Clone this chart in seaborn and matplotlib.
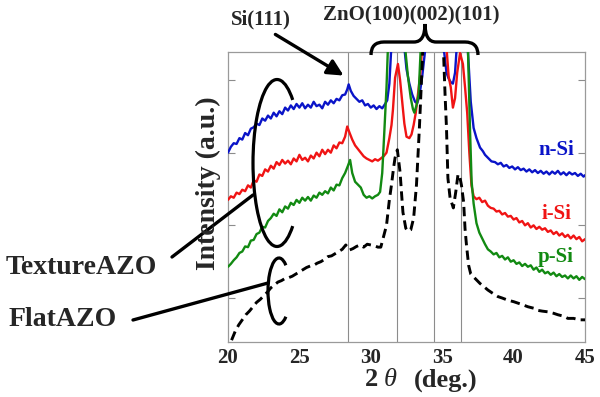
import matplotlib
matplotlib.use("Agg")
import matplotlib.pyplot as plt
import seaborn as sns
from matplotlib.patches import Arc, FancyArrowPatch, PathPatch
from matplotlib.path import Path
from matplotlib.lines import Line2D
from matplotlib.transforms import Affine2D

# ---------------------------------------------------------
# data (intensity in arbitrary units)
# ---------------------------------------------------------

n_si_x = [20.0, 20.2, 20.4, 20.6, 20.8, 21.0, 21.2, 21.4, 21.6, 21.8, 22.0, 22.2, 22.4, 22.6, 22.8,
          23.0, 23.2, 23.4, 23.6, 23.8, 24.0, 24.2, 24.4, 24.6, 24.8, 25.0, 25.2, 25.4, 25.6, 25.8,
          26.0, 26.2, 26.4, 26.6, 26.8, 27.0, 27.2, 27.4, 27.6, 27.8, 28.0, 28.2, 28.35, 28.45, 28.6,
          28.8, 29.0, 29.2, 29.4, 29.6, 29.8, 30.0, 30.2, 30.4, 30.6, 30.8, 31.0, 31.15, 31.3, 31.45,
          31.7, 32.1, 32.35, 32.5, 32.7, 32.9, 33.1, 33.25, 33.4, 33.6, 33.8, 34.4, 35.1, 35.3, 35.45,
          35.6, 35.75, 35.9, 36.0, 36.3, 36.8, 37.0, 37.2, 37.4, 37.65, 37.85, 38.0, 38.2, 38.45, 38.7,
          38.9, 39.1, 39.3, 39.5, 39.7, 39.9, 40.1, 40.3, 40.5, 40.7, 40.9, 41.1, 41.3, 41.5, 41.7,
          41.9, 42.1, 42.3, 42.5, 42.7, 42.9, 43.1, 43.3, 43.5, 43.7, 43.9, 44.1, 44.3, 44.5, 44.7,
          44.9, 45.0]
n_si_y = [3.00, 3.08, 3.13, 3.12, 3.20, 3.18, 3.27, 3.24, 3.33, 3.35, 3.40, 3.38, 3.47, 3.44, 3.51,
          3.47, 3.55, 3.50, 3.57, 3.53, 3.62, 3.58, 3.65, 3.60, 3.67, 3.62, 3.68, 3.61, 3.66, 3.62,
          3.70, 3.64, 3.66, 3.61, 3.70, 3.66, 3.72, 3.68, 3.74, 3.72, 3.79, 3.80, 3.87, 3.94, 3.85,
          3.78, 3.74, 3.70, 3.72, 3.65, 3.67, 3.62, 3.65, 3.60, 3.64, 3.61, 3.67, 3.72, 3.95, 4.50,
          5.20, 4.60, 4.45, 4.15, 3.95, 3.80, 3.70, 3.68, 3.78, 4.05, 4.40, 6.00, 4.45, 4.10, 4.02,
          3.97, 3.95, 4.10, 4.40, 5.50, 4.40, 3.70, 3.34, 3.20, 3.07, 3.02, 2.97, 2.93, 2.88, 2.87,
          2.84, 2.86, 2.81, 2.83, 2.79, 2.81, 2.77, 2.80, 2.76, 2.78, 2.74, 2.77, 2.73, 2.76, 2.72,
          2.75, 2.71, 2.74, 2.70, 2.74, 2.71, 2.75, 2.70, 2.73, 2.69, 2.73, 2.70, 2.72, 2.68, 2.71,
          2.67, 2.69]

i_si_x = [20.0, 20.2, 20.4, 20.6, 20.8, 21.0, 21.2, 21.4, 21.6, 21.8, 22.0, 22.2, 22.4, 22.6, 22.8,
          23.0, 23.2, 23.4, 23.6, 23.8, 24.0, 24.2, 24.4, 24.6, 24.8, 25.0, 25.2, 25.4, 25.6, 25.8,
          26.0, 26.2, 26.4, 26.6, 26.8, 27.0, 27.2, 27.4, 27.6, 27.8, 28.0, 28.2, 28.35, 28.5, 28.7,
          28.9, 29.1, 29.3, 29.5, 29.7, 29.9, 30.1, 30.3, 30.5, 30.7, 30.9, 31.1, 31.3, 31.45, 31.55,
          31.7, 31.9, 32.05, 32.2, 32.35, 32.5, 32.7, 32.85, 33.0, 33.15, 33.3, 33.45, 33.6, 34.4, 35.3,
          35.45, 35.6, 35.75, 35.9, 36.05, 36.25, 36.45, 36.6, 36.75, 36.9, 37.05, 37.2, 37.4, 37.6,
          37.8, 38.0, 38.2, 38.4, 38.6, 38.8, 39.0, 39.2, 39.4, 39.6, 39.8, 40.0, 40.2, 40.4, 40.6,
          40.8, 41.0, 41.2, 41.4, 41.6, 41.8, 42.0, 42.2, 42.4, 42.6, 42.8, 43.0, 43.2, 43.4, 43.6,
          43.8, 44.0, 44.2, 44.4, 44.6, 44.8, 45.0]
i_si_y = [2.35, 2.40, 2.38, 2.45, 2.43, 2.49, 2.47, 2.55, 2.52, 2.62, 2.60, 2.70, 2.68, 2.77, 2.74,
          2.82, 2.78, 2.87, 2.83, 2.90, 2.85, 2.89, 2.84, 2.92, 2.88, 2.97, 2.90, 2.93, 2.88, 2.96,
          2.92, 3.00, 2.95, 3.04, 2.98, 3.04, 3.00, 3.10, 3.06, 3.14, 3.13, 3.22, 3.36, 3.28, 3.18,
          3.10, 3.05, 3.00, 2.95, 2.92, 2.90, 2.88, 2.91, 2.89, 2.92, 2.95, 3.00, 3.20, 3.38, 3.59,
          4.03, 4.22, 4.00, 3.70, 3.40, 3.22, 3.20, 3.25, 3.38, 3.55, 3.80, 4.05, 4.45, 6.00, 4.45,
          4.05, 3.90, 3.62, 3.75, 4.10, 4.37, 4.22, 3.90, 3.55, 3.00, 2.55, 2.40, 2.36, 2.38,
          2.32, 2.34, 2.27, 2.24, 2.23, 2.19, 2.20, 2.15, 2.17, 2.12, 2.13, 2.08, 2.10, 2.04, 2.06,
          2.00, 2.03, 1.97, 2.00, 1.95, 1.98, 1.94, 1.96, 1.91, 1.93, 1.88, 1.91, 1.86, 1.89, 1.84,
          1.87, 1.82, 1.86, 1.81, 1.84, 1.78, 1.81]

p_si_x = [20.0, 20.2, 20.4, 20.6, 20.8, 21.0, 21.2, 21.4, 21.6, 21.8, 22.0, 22.2, 22.4, 22.6, 22.8,
          23.0, 23.2, 23.4, 23.6, 23.8, 24.0, 24.2, 24.4, 24.6, 24.8, 25.0, 25.2, 25.4, 25.6, 25.8,
          26.0, 26.2, 26.4, 26.6, 26.8, 27.0, 27.2, 27.4, 27.6, 27.8, 28.0, 28.2, 28.4, 28.55, 28.7,
          28.9, 29.1, 29.3, 29.5, 29.7, 29.9, 30.1, 30.3, 30.5, 30.65, 30.8, 30.95, 31.1, 31.2, 31.8,
          32.4, 32.6, 32.8, 32.95, 33.05, 33.2, 33.35, 33.5, 34.4, 36.3, 36.8, 36.95, 37.06, 37.2,
          37.4, 37.6, 37.8, 38.0, 38.2, 38.4, 38.6, 38.8, 39.0, 39.2, 39.4, 39.6, 39.8, 40.0, 40.2,
          40.4, 40.6, 40.8, 41.0, 41.2, 41.4, 41.6, 41.8, 42.0, 42.2, 42.4, 42.6, 42.8, 43.0, 43.2,
          43.4, 43.6, 43.8, 44.0, 44.2, 44.4, 44.6, 44.8, 45.0]
p_si_y = [1.43, 1.47, 1.52, 1.56, 1.62, 1.64, 1.71, 1.70, 1.79, 1.80, 1.88, 1.90, 1.98, 1.97, 2.06,
          2.10, 2.16, 2.13, 2.22, 2.18, 2.26, 2.23, 2.31, 2.28, 2.35, 2.31, 2.38, 2.34, 2.39, 2.34,
          2.41, 2.38, 2.45, 2.42, 2.47, 2.44, 2.52, 2.48, 2.56, 2.55, 2.65, 2.72, 2.82, 2.90, 2.72,
          2.60, 2.56, 2.52, 2.42, 2.38, 2.40, 2.37, 2.40, 2.42, 2.46, 2.72, 3.30, 3.90, 4.45, 6.00,
          4.45, 4.05, 3.75, 3.60, 3.55, 3.65, 3.80, 4.45, 7.00, 7.00, 4.45, 3.30, 2.60, 2.30,
          2.03, 1.90, 1.82, 1.74, 1.67, 1.64, 1.60, 1.62, 1.56, 1.58, 1.53, 1.56, 1.50, 1.52, 1.47,
          1.49, 1.44, 1.47, 1.43, 1.45, 1.39, 1.42, 1.36, 1.39, 1.34, 1.36, 1.32, 1.35, 1.30, 1.33,
          1.29, 1.31, 1.27, 1.31, 1.27, 1.30, 1.25, 1.29, 1.26]

flat_x = [20.25, 20.5, 20.75, 21.0, 21.25, 21.5, 21.75, 22.0, 22.25, 22.5, 22.75, 23.0, 23.25, 23.5,
          23.75, 24.0, 24.25, 24.5, 24.75, 25.0, 25.25, 25.5, 25.75, 26.0, 26.25, 26.5, 26.75, 27.0,
          27.25, 27.5, 27.75, 28.0, 28.25, 28.5, 28.75, 29.0, 29.25, 29.5, 29.75, 30.0, 30.25, 30.5,
          30.7, 30.9, 31.1, 31.3, 31.45, 31.6, 31.7, 31.86, 32.05, 32.15, 32.25, 32.45, 32.6, 32.8,
          33.0, 33.2, 33.4, 33.55, 33.65, 34.4, 35.08, 35.2, 35.3, 35.4, 35.55, 35.78, 35.95, 36.1,
          36.2, 36.35, 36.5, 36.6, 36.7, 36.85, 37.0, 37.2, 37.4, 37.65, 37.9, 38.2, 38.5, 38.9, 39.2,
          39.6, 40.0, 40.3, 40.6, 41.0, 41.4, 41.7, 42.0, 42.4, 42.8, 43.1, 43.5, 43.8, 44.2, 44.6,
          45.0]
flat_y = [0.42, 0.54, 0.63, 0.70, 0.77, 0.82, 0.88, 0.94, 0.98, 1.03, 1.08, 1.14, 1.18, 1.22,
          1.24, 1.27, 1.28, 1.30, 1.33, 1.36, 1.39, 1.42, 1.44, 1.45, 1.48, 1.50, 1.53, 1.57,
          1.58, 1.61, 1.64, 1.67, 1.73, 1.66, 1.68, 1.71, 1.73, 1.70, 1.74, 1.73, 1.72, 1.70,
          1.70, 1.85, 2.00, 2.35, 2.56, 2.80, 2.93, 3.04, 2.73, 2.45, 2.18, 1.96, 1.92, 1.94,
          2.10, 2.56, 3.33, 4.00, 4.45, 8.00, 4.45, 3.80, 3.34, 2.65, 2.38, 2.24, 2.46, 2.69,
          2.70, 2.55, 2.32, 1.95, 1.73, 1.45, 1.33, 1.29, 1.25, 1.20, 1.16, 1.11, 1.07, 1.02, 1.00,
          0.97, 0.95, 0.93, 0.91, 0.88, 0.86, 0.83, 0.82, 0.81, 0.79, 0.77, 0.75, 0.72, 0.72, 0.70,
          0.70]

series_labels = ["n-Si", "i-Si", "p-Si"]
series_colors = ["#0a14c8", "#f01414", "#128a12"]
peak_lines = [28.4, 31.86, 34.45, 36.33]   # thin reference lines (Si(111), ZnO peaks)
x_ticks = [20, 25, 30, 35, 40, 45]

# ---------------------------------------------------------
# figure
# ---------------------------------------------------------

sns.set_style("white")
plt.rcParams["font.family"] = ["Liberation Serif", "DejaVu Serif"]
plt.rcParams["font.weight"] = "bold"

W, H = 600, 397
fig = plt.figure(figsize=(6, 3.97), dpi=100)

# annotations are placed in image pixels (origin top-left)
pix = Affine2D().scale(0.01, -0.01).translate(0, H / 100) + fig.dpi_scale_trans


def fx(px):
    return px / W


def fy(py):
    return 1 - py / H


ax = fig.add_axes([fx(228), fy(342), fx(585) - fx(228), fy(52) - fy(342)])

for xv in peak_lines:
    ax.axvline(xv, color="#8c8c8c", lw=0.8, zorder=1)

curves = [(n_si_x, n_si_y), (i_si_x, i_si_y), (p_si_x, p_si_y)]
for (xs, ys), col in zip(curves, series_colors):
    sns.lineplot(x=xs, y=ys, ax=ax, color=col, lw=1.7, estimator=None, sort=False, zorder=3)

sns.lineplot(x=flat_x, y=flat_y, ax=ax, color="black", lw=2.1, estimator=None, sort=False, zorder=4)
ax.lines[-1].set_dashes((3.2, 1.8))

ax.set_xlim(20, 45)
ax.set_ylim(0.395, 4.385)
ax.set_xticks(x_ticks)
ax.set_yticks([1, 2, 3, 4])
ax.set_yticklabels([])
ax.tick_params(axis="x", direction="in", length=5, width=0.8, color="#8c8c8c",
               labelsize=15, pad=4)
ax.tick_params(axis="y", direction="in", length=5, width=0.8, color="#8c8c8c",
               left=True, right=True)
for lab in ax.get_xticklabels():
    lab.set_fontweight("bold")
for sp in ax.spines.values():
    sp.set_color("#9a9a9a")
    sp.set_linewidth(0.9)
ax.set_xlabel("")
ax.set_ylabel("")

# axis titles
fig.text(fx(208), fy(183), "Intensity (a.u.)", rotation=90, ha="center", va="center",
         fontsize=20, fontweight="bold")
fig.text(fx(371), fy(380), "2", ha="center", va="center", fontsize=19, fontweight="bold")
fig.text(fx(390), fy(380), "θ", ha="center", va="center", fontsize=19, style="italic",
         fontweight="normal")
fig.text(fx(446), fy(380), "(deg.)", ha="center", va="center", fontsize=19, fontweight="bold")

# series labels on the right
for lab, col, py in zip(series_labels, series_colors, [150, 214, 257]):
    fig.text(fx(556), fy(py), lab, color=col, ha="center", va="center", fontsize=15,
             fontweight="bold")

# peak annotations
fig.text(fx(261), fy(19), "Si(111)", ha="center", va="center", fontsize=15, fontweight="bold")
fig.text(fx(411), fy(15), "ZnO(100)(002)(101)", ha="center", va="center", fontsize=15,
         fontweight="bold")
fig.patches.append(FancyArrowPatch((273, 33), (346, 77), transform=pix, arrowstyle="-|>",
                                   mutation_scale=24, lw=2.4, color="black"))

brace = [(371, 55), (371, 42), (384, 42), (414, 42), (425, 42), (425, 24),
         (425, 42), (436, 42), (465, 42), (478, 42), (478, 55)]
codes = [Path.MOVETO, Path.CURVE3, Path.CURVE3, Path.LINETO, Path.CURVE3, Path.CURVE3,
         Path.CURVE3, Path.CURVE3, Path.LINETO, Path.CURVE3, Path.CURVE3]
fig.patches.append(PathPatch(Path(brace, codes), transform=pix, fill=False, lw=2.4,
                             color="black"))

# sample group labels with open ellipses
fig.text(fx(81), fy(267), "TextureAZO", ha="center", va="center", fontsize=20, fontweight="bold")
fig.text(fx(63), fy(320), "FlatAZO", ha="center", va="center", fontsize=20, fontweight="bold")

# pixel frame has y pointing down, so the arc opening to the right spans -76..76 mirrored
fig.patches.append(Arc((277, 163), 48, 167, theta1=76, theta2=284, transform=pix,
                       lw=2.3, color="black"))
fig.patches.append(Arc((279, 291), 22, 66, theta1=75, theta2=285, transform=pix,
                       lw=2.3, color="black"))
fig.lines.append(Line2D([172, 253], [257, 195], transform=pix, lw=2.4, color="black"))
fig.lines.append(Line2D([133, 268], [320, 283], transform=pix, lw=2.4, color="black"))

fig.savefig("out.png", dpi=100)
